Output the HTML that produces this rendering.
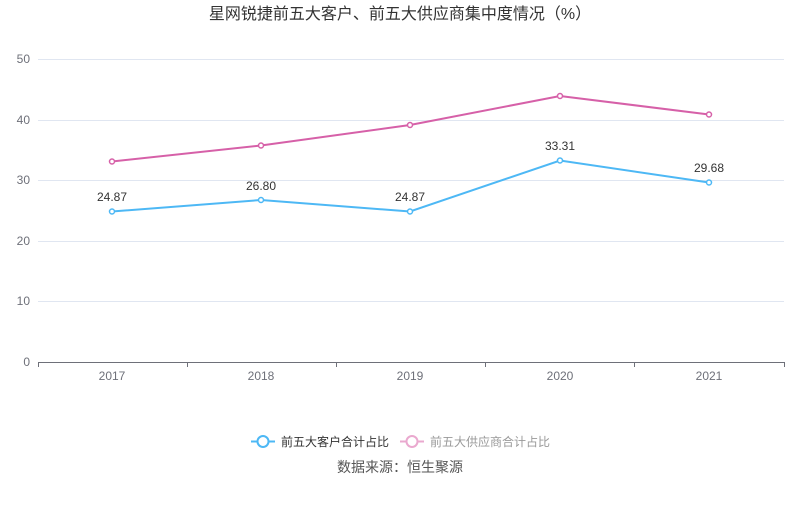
<!DOCTYPE html>
<html><head><meta charset="utf-8"><style>
body{margin:0;background:#fff;}
text{font-family:"Liberation Sans","Noto Sans CJK SC",sans-serif;}
</style></head><body>
<svg width="800" height="501" viewBox="0 0 800 501" xmlns="http://www.w3.org/2000/svg">
<text x="400" y="19" text-anchor="middle" font-size="16" fill="#333">星网锐捷前五大客户、前五大供应商集中度情况（%）</text>
<g stroke="#e0e6f1" stroke-width="1">
<line x1="38" x2="784" y1="59.5" y2="59.5"/><line x1="38" x2="784" y1="120.5" y2="120.5"/>
<line x1="38" x2="784" y1="180.5" y2="180.5"/><line x1="38" x2="784" y1="241.5" y2="241.5"/>
<line x1="38" x2="784" y1="301.5" y2="301.5"/>
</g>
<line x1="38" x2="784" y1="362.5" y2="362.5" stroke="#6e7079"/>
<g stroke="#6e7079"><line x1="38.5" x2="38.5" y1="362" y2="367"/><line x1="187.5" x2="187.5" y1="362" y2="367"/><line x1="336.5" x2="336.5" y1="362" y2="367"/><line x1="485.5" x2="485.5" y1="362" y2="367"/><line x1="634.5" x2="634.5" y1="362" y2="367"/><line x1="784.5" x2="784.5" y1="362" y2="367"/></g>
<g font-size="12" fill="#6e7079" text-anchor="end">
<text x="30" y="63">50</text><text x="30" y="124">40</text><text x="30" y="184">30</text><text x="30" y="245">20</text><text x="30" y="305">10</text><text x="30" y="366">0</text>
</g>
<g font-size="12" fill="#6e7079" text-anchor="middle">
<text x="112" y="380">2017</text><text x="261" y="380">2018</text><text x="410" y="380">2019</text><text x="560" y="380">2020</text><text x="709" y="380">2021</text>
</g>
<polyline points="112,161.5 261,145.5 410,125 560,96 709,114.5" fill="none" stroke="#d660a8" stroke-width="2"/>
<g fill="#fff" stroke="#d660a8" stroke-width="1.5">
<circle cx="112" cy="161.5" r="2.5"/><circle cx="261" cy="145.5" r="2.5"/><circle cx="410" cy="125" r="2.5"/><circle cx="560" cy="96" r="2.5"/><circle cx="709" cy="114.5" r="2.5"/></g>
<polyline points="112,211.5 261,200 410,211.5 560,160.5 709,182.5" fill="none" stroke="#4db8f5" stroke-width="2"/>
<g fill="#fff" stroke="#4db8f5" stroke-width="1.5">
<circle cx="112" cy="211.5" r="2.5"/><circle cx="261" cy="200" r="2.5"/><circle cx="410" cy="211.5" r="2.5"/><circle cx="560" cy="160.5" r="2.5"/><circle cx="709" cy="182.5" r="2.5"/></g>
<g font-size="12" fill="#333" text-anchor="middle">
<text x="112" y="201">24.87</text><text x="261" y="190">26.80</text><text x="410" y="201">24.87</text><text x="560" y="150">33.31</text><text x="709" y="172">29.68</text>
</g>
<line x1="251" x2="275" y1="441.5" y2="441.5" stroke="#4db8f5" stroke-width="2"/>
<circle cx="263" cy="441.5" r="5.5" fill="#fff" stroke="#4db8f5" stroke-width="2"/>
<text x="281" y="446" font-size="12" fill="#333">前五大客户合计占比</text>
<line x1="400" x2="424" y1="441.5" y2="441.5" stroke="#eaa9cf" stroke-width="2"/>
<circle cx="412" cy="441.5" r="5.5" fill="#fff" stroke="#eaa9cf" stroke-width="2"/>
<text x="430" y="446" font-size="12" fill="#999">前五大供应商合计占比</text>
<text x="400" y="472" text-anchor="middle" font-size="14" fill="#555">数据来源：恒生聚源</text>
</svg>
</body></html>
